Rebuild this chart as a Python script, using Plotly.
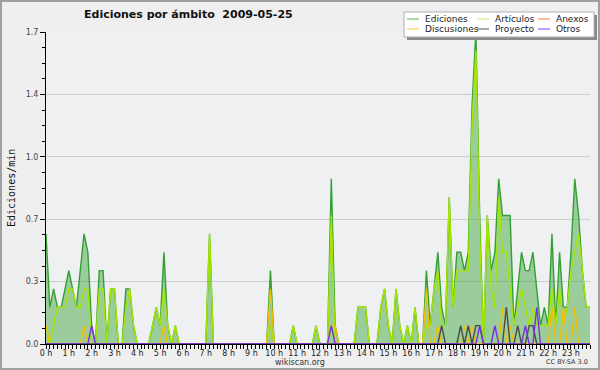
import plotly.graph_objects as go

# 10-minute slots across the day (144 values per series), edits per minute
ediciones = [
    0.6, 0.2, 0.3, 0.2, 0.2, 0.3, 0.4, 0.3, 0.2, 0.4, 0.6, 0.5,
    0.1, 0.0, 0.4, 0.4, 0.0, 0.3, 0.3, 0.0, 0.0, 0.3, 0.3, 0.1,
    0.0, 0.0, 0.0, 0.0, 0.1, 0.2, 0.1, 0.5, 0.1, 0.0, 0.1, 0.0,
    0.0, 0.0, 0.0, 0.0, 0.0, 0.0, 0.0, 0.6, 0.0, 0.0, 0.0, 0.0,
    0.0, 0.0, 0.0, 0.0, 0.0, 0.0, 0.0, 0.0, 0.0, 0.0, 0.0, 0.4,
    0.0, 0.0, 0.0, 0.0, 0.0, 0.1, 0.0, 0.0, 0.0, 0.0, 0.0, 0.1,
    0.0, 0.0, 0.0, 0.9, 0.1, 0.0, 0.0, 0.0, 0.0, 0.0, 0.2, 0.2,
    0.2, 0.0, 0.0, 0.0, 0.2, 0.3, 0.1, 0.0, 0.3, 0.1, 0.0, 0.1,
    0.0, 0.2, 0.0, 0.0, 0.4, 0.1, 0.3, 0.5, 0.2, 0.1, 0.8, 0.2,
    0.5, 0.5, 0.4, 0.5, 1.3, 1.7, 0.7, 0.0, 0.7, 0.4, 0.5, 0.9,
    0.7, 0.7, 0.7, 0.1, 0.3, 0.5, 0.4, 0.4, 0.5, 0.3, 0.1, 0.2,
    0.1, 0.6, 0.1, 0.5, 0.2, 0.2, 0.5, 0.9, 0.7, 0.4, 0.2, 0.2,
]
articulos = [
    0.1, 0.0, 0.1, 0.2, 0.2, 0.2, 0.3, 0.3, 0.2, 0.2, 0.3, 0.3,
    0.0, 0.0, 0.3, 0.3, 0.0, 0.3, 0.3, 0.0, 0.0, 0.2, 0.3, 0.1,
    0.0, 0.0, 0.0, 0.0, 0.1, 0.2, 0.1, 0.3, 0.1, 0.0, 0.1, 0.0,
    0.0, 0.0, 0.0, 0.0, 0.0, 0.0, 0.0, 0.6, 0.0, 0.0, 0.0, 0.0,
    0.0, 0.0, 0.0, 0.0, 0.0, 0.0, 0.0, 0.0, 0.0, 0.0, 0.0, 0.1,
    0.0, 0.0, 0.0, 0.0, 0.0, 0.1, 0.0, 0.0, 0.0, 0.0, 0.0, 0.1,
    0.0, 0.0, 0.0, 0.7, 0.0, 0.0, 0.0, 0.0, 0.0, 0.0, 0.2, 0.2,
    0.2, 0.0, 0.0, 0.0, 0.2, 0.3, 0.1, 0.0, 0.3, 0.1, 0.0, 0.1,
    0.0, 0.2, 0.0, 0.0, 0.1, 0.1, 0.3, 0.4, 0.1, 0.1, 0.8, 0.2,
    0.4, 0.4, 0.4, 0.4, 1.2, 1.6, 0.6, 0.0, 0.7, 0.3, 0.2, 0.8,
    0.5, 0.5, 0.3, 0.1, 0.2, 0.3, 0.2, 0.1, 0.2, 0.1, 0.1, 0.1,
    0.1, 0.3, 0.1, 0.3, 0.1, 0.2, 0.4, 0.5, 0.6, 0.4, 0.2, 0.2,
]
anexos = [0.0] * 144
discusiones = [
    0.1, 0.0, 0.0, 0.0, 0.0, 0.0, 0.0, 0.0, 0.0, 0.0, 0.1, 0.0,
    0.0, 0.0, 0.0, 0.0, 0.0, 0.0, 0.0, 0.0, 0.0, 0.0, 0.0, 0.0,
    0.0, 0.0, 0.0, 0.0, 0.0, 0.0, 0.0, 0.1, 0.0, 0.0, 0.0, 0.0,
    0.0, 0.0, 0.0, 0.0, 0.0, 0.0, 0.0, 0.0, 0.0, 0.0, 0.0, 0.0,
    0.0, 0.0, 0.0, 0.0, 0.0, 0.0, 0.0, 0.0, 0.0, 0.0, 0.0, 0.3,
    0.0, 0.0, 0.0, 0.0, 0.0, 0.0, 0.0, 0.0, 0.0, 0.0, 0.0, 0.0,
    0.0, 0.0, 0.0, 0.1, 0.1, 0.0, 0.0, 0.0, 0.0, 0.0, 0.0, 0.0,
    0.0, 0.0, 0.0, 0.0, 0.0, 0.0, 0.0, 0.0, 0.0, 0.0, 0.0, 0.0,
    0.0, 0.0, 0.0, 0.0, 0.3, 0.0, 0.0, 0.1, 0.0, 0.0, 0.0, 0.0,
    0.0, 0.0, 0.1, 0.0, 0.1, 0.0, 0.0, 0.0, 0.0, 0.0, 0.0, 0.0,
    0.2, 0.0, 0.1, 0.0, 0.0, 0.0, 0.0, 0.0, 0.0, 0.0, 0.0, 0.0,
    0.0, 0.2, 0.0, 0.0, 0.2, 0.0, 0.0, 0.2, 0.0, 0.0, 0.0, 0.0,
]
proyecto = [0.0] * 104 + [
    0.1, 0.0, 0.0, 0.0, 0.0, 0.1, 0.0, 0.1,
    0.0, 0.1, 0.1, 0.0, 0.0, 0.0, 0.0, 0.0,
    0.0, 0.2, 0.0, 0.0, 0.1, 0.0, 0.0, 0.1,
    0.1, 0.0, 0.0, 0.0, 0.0, 0.0, 0.0, 0.0,
    0.0, 0.0, 0.0, 0.0, 0.0, 0.0, 0.0, 0.0,
]
otros = [0.0] * 12 + [0.1] + [0.0] * 62 + [0.1] + [0.0] * 38 + [
    0.1, 0.0, 0.0, 0.0, 0.1, 0.0, 0.0, 0.0,
    0.0, 0.0, 0.0, 0.0, 0.1, 0.0, 0.0, 0.2,
] + [0.0] * 14

hours = [i / 6 for i in range(len(ediciones))]
hour_ticks = list(range(24))
hour_labels = [f"{h} h" for h in hour_ticks]
y_ticks = [0, 0.34, 0.68, 1.02, 1.36, 1.7]
y_labels = ["0.0", "0.3", "0.7", "1.0", "1.4", "1.7"]

series = [
    ("Artículos", articulos, "#a6e600"),
    ("Anexos", anexos, "#ff8040"),
    ("Discusiones", discusiones, "#f2c200"),
    ("Proyecto", proyecto, "#4a4a4a"),
    ("Otros", otros, "#7a30e0"),
]

W, H = 600, 370
L, R, T, B = 46, 10, 32, 26
PW, PH = W - L - R, H - T - B


def px(x):
    return (x - L) / PW


def py(y):
    return (H - B - y) / PH


fig = go.Figure()
fig.add_trace(go.Scatter(
    x=hours, y=ediciones, mode="lines", name="Ediciones",
    line=dict(color="#33a033", width=1.4),
    fill="tozeroy", fillcolor="rgba(50,160,50,0.45)",
))
for name, vals, col in series:
    fig.add_trace(go.Scatter(x=hours, y=vals, mode="lines", name=name,
                             line=dict(color=col, width=1.4)))

font = "DejaVu Sans"
fig.update_layout(
    width=W, height=H,
    margin=dict(l=L, r=R, t=T, b=B, autoexpand=False),
    paper_bgcolor="#efefef", plot_bgcolor="#eef0f2",
    showlegend=False,
    font=dict(family=font, size=8, color="#333333"),
)
fig.update_xaxes(
    range=[0, hours[-1]], tickvals=hour_ticks, ticktext=hour_labels,
    showline=True, linecolor="black", linewidth=1,
    ticks="outside", ticklen=4, tickcolor="black", showgrid=False,
    zeroline=False, ticklabelstandoff=-3,
    minor=dict(dtick=1 / 6, tick0=0, ticks="outside", ticklen=4,
               tickcolor="black", showgrid=False),
    tickfont=dict(size=8, color="#222222"),
)
fig.update_yaxes(
    range=[0, 1.7], tickvals=y_ticks, ticktext=y_labels,
    showline=True, linecolor="black", linewidth=1,
    ticks="outside", ticklen=5, tickcolor="black",
    showgrid=True, gridcolor="#cccccc", gridwidth=1, zeroline=False,
    minor=dict(dtick=0.085, tick0=0, ticks="outside", ticklen=3,
               tickcolor="black", showgrid=False),
    tickfont=dict(size=8, color="#444444"),
)

shapes = []
annotations = []
# outer border
shapes.append(dict(type="rect", xref="paper", yref="paper",
                   x0=px(1), x1=px(599), y0=py(369), y1=py(1),
                   line=dict(color="#a0a0a0", width=2)))
# legend shadow and box
shapes.append(dict(type="rect", xref="paper", yref="paper",
                   x0=px(407), x1=px(597), y0=py(40), y1=py(15),
                   fillcolor="#8a8a8a", line=dict(width=0)))
shapes.append(dict(type="rect", xref="paper", yref="paper",
                   x0=px(404), x1=px(594), y0=py(37), y1=py(12),
                   fillcolor="white", line=dict(color="#b0b0b0", width=1)))
legend_items = [
    ("Ediciones", "#55bb55", 407, 19),
    ("Artículos", "#c8ee60", 477, 19),
    ("Anexos", "#ff8040", 538, 19),
    ("Discusiones", "#f5c842", 407, 29),
    ("Proyecto", "#555555", 477, 29),
    ("Otros", "#8040f0", 538, 29),
]
for name, col, lx, ly in legend_items:
    shapes.append(dict(type="line", xref="paper", yref="paper",
                       x0=px(lx), x1=px(lx + 12), y0=py(ly), y1=py(ly),
                       line=dict(color=col, width=1)))
    annotations.append(dict(text=name, xref="paper", yref="paper",
                            x=px(lx + 16), y=py(ly), xanchor="left",
                            yanchor="middle", showarrow=False,
                            font=dict(family=font, size=9, color="#222222")))

annotations.append(dict(text="Ediciones/min", xref="paper", yref="paper",
                        x=px(11), y=py(188), xanchor="center",
                        yanchor="middle", textangle=-90, showarrow=False,
                        font=dict(family="DejaVu Sans Mono", size=10,
                                  color="#111111")))
annotations.append(dict(text="<b>Ediciones por ámbito  2009-05-25</b>",
                        xref="paper", yref="paper", x=px(188), y=py(15),
                        xanchor="center", yanchor="middle", showarrow=False,
                        font=dict(family=font, size=11, color="#111111")))
annotations.append(dict(text="wikiscan.org", xref="paper", yref="paper",
                        x=px(300), y=py(362), xanchor="center",
                        yanchor="middle", showarrow=False,
                        font=dict(family=font, size=8, color="#333333")))
annotations.append(dict(text="CC BY-SA 3.0", xref="paper", yref="paper",
                        x=px(590), y=py(362), xanchor="right",
                        yanchor="middle", showarrow=False,
                        font=dict(family=font, size=6.5, color="#333333")))
fig.update_layout(shapes=shapes, annotations=annotations)

fig.write_html("out.html",
               config={"displayModeBar": False, "staticPlot": True},
               post_script="document.body.style.margin='0';"
                           "document.body.style.overflow='hidden';")
